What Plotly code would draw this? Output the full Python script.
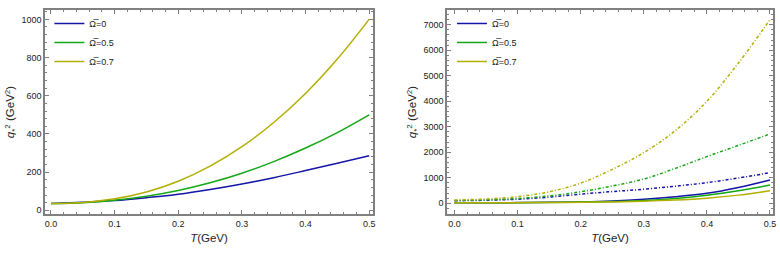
import plotly.graph_objects as go

# ---- data ----
T = [0.0, 0.05, 0.1, 0.15, 0.2, 0.25, 0.3, 0.35, 0.4, 0.45, 0.5]
omega_labels = ["Ω\u0305=0", "Ω\u0305=0.5", "Ω\u0305=0.7"]

# left panel
left_w0 = [35, 42, 51, 66, 84, 109, 138, 171, 208, 246, 286]
left_w05 = [35, 40, 53, 74, 104, 144, 194, 255, 326, 407, 500]
left_w07 = [35, 41, 60, 96, 152, 231, 333, 460, 612, 792, 1000]

# right panel, solid
right_w0 = [20, 22, 27, 37, 55, 90, 157, 255, 392, 620, 914]
right_w05 = [20, 21, 25, 33, 47, 70, 110, 190, 314, 490, 718]
right_w07 = [20, 21, 24, 30, 40, 55, 80, 125, 200, 320, 495]
# right panel, dash-dot
right_dd_w0 = [100, 120, 157, 240, 360, 460, 550, 670, 810, 990, 1200]
right_dd_w05 = [110, 135, 190, 290, 450, 680, 950, 1370, 1830, 2270, 2720]
right_dd_w07 = [130, 170, 260, 450, 790, 1330, 1985, 2850, 4000, 5500, 7200]

colors = ["#1414a8", "#14a814", "#b4ae00"]
FONT = "Liberation Sans, Arial, sans-serif"

fig = go.Figure()

for vals, c, name in zip([left_w0, left_w05, left_w07], colors, omega_labels):
    fig.add_trace(go.Scatter(x=T, y=vals, mode="lines", line=dict(color=c, width=1.5, shape="spline"),
                             name=name, xaxis="x", yaxis="y", legend="legend"))

for vals, c, name in zip([right_w0, right_w05, right_w07], colors, omega_labels):
    fig.add_trace(go.Scatter(x=T, y=vals, mode="lines", line=dict(color=c, width=1.5, shape="spline"),
                             name=name, xaxis="x2", yaxis="y2", legend="legend2"))

for vals, c, name in zip([right_dd_w0, right_dd_w05, right_dd_w07], colors, omega_labels):
    fig.add_trace(go.Scatter(x=T, y=vals, mode="lines",
                             line=dict(color=c, width=1.5, dash="3px,2px,1px,2px", shape="spline"),
                             name=name, xaxis="x2", yaxis="y2", showlegend=False))

frame = "#808080"
axis_common = dict(showline=True, linecolor=frame, linewidth=1.5, mirror="ticks", ticks="inside",
                   ticklen=4, tickcolor=frame, tickwidth=1, showgrid=False, zeroline=False,
                   automargin=False,
                   tickfont=dict(family=FONT, size=9, color="#222"))

xtitle = dict(text="<i>T</i>(GeV)", font=dict(family=FONT, size=11.5, color="#222"), standoff=6)
ytitle = dict(text="<i>q</i><sub>*</sub><sup>2</sup> (GeV<sup>2</sup>)",
              font=dict(family=FONT, size=11.5, color="#222"), standoff=4)

fig.update_layout(
    template="none",
    width=780, height=255,
    margin=dict(l=45, r=7, t=10, b=41, autoexpand=False),
    paper_bgcolor="white", plot_bgcolor="white",
    xaxis=dict(domain=[0, 0.4505], range=[-0.0094, 0.506], dtick=0.1, tickformat=".1f",
               minor=dict(dtick=0.02, ticks="inside", ticklen=2, tickcolor=frame),
               title=xtitle, **axis_common),
    yaxis=dict(domain=[0, 1], range=[-19.4, 1049], dtick=200,
               minor=dict(dtick=40, ticks="inside", ticklen=2, tickcolor=frame),
               title=ytitle, **axis_common),
    xaxis2=dict(domain=[0.5522, 1], range=[-0.0119, 0.5048], dtick=0.1, tickformat=".1f",
                minor=dict(dtick=0.02, ticks="inside", ticklen=2, tickcolor=frame),
                title=xtitle, anchor="y2", **axis_common),
    yaxis2=dict(domain=[0, 1], range=[-420, 7580], dtick=1000,
                minor=dict(dtick=200, ticks="inside", ticklen=2, tickcolor=frame),
                title=ytitle, anchor="x2", **axis_common),
    legend=dict(x=0.006, y=1.005, xanchor="left", yanchor="top", bgcolor="rgba(0,0,0,0)",
                font=dict(family=FONT, size=9, color="#222"), itemwidth=30, tracegroupgap=0),
    legend2=dict(x=0.559, y=1.005, xanchor="left", yanchor="top", bgcolor="rgba(0,0,0,0)",
                 font=dict(family=FONT, size=9, color="#222"), itemwidth=30, tracegroupgap=0),
    showlegend=True,
)

fig.write_html("out.html", config={"displayModeBar": False},
               post_script="document.body.style.margin='0';document.body.style.padding='0';")
